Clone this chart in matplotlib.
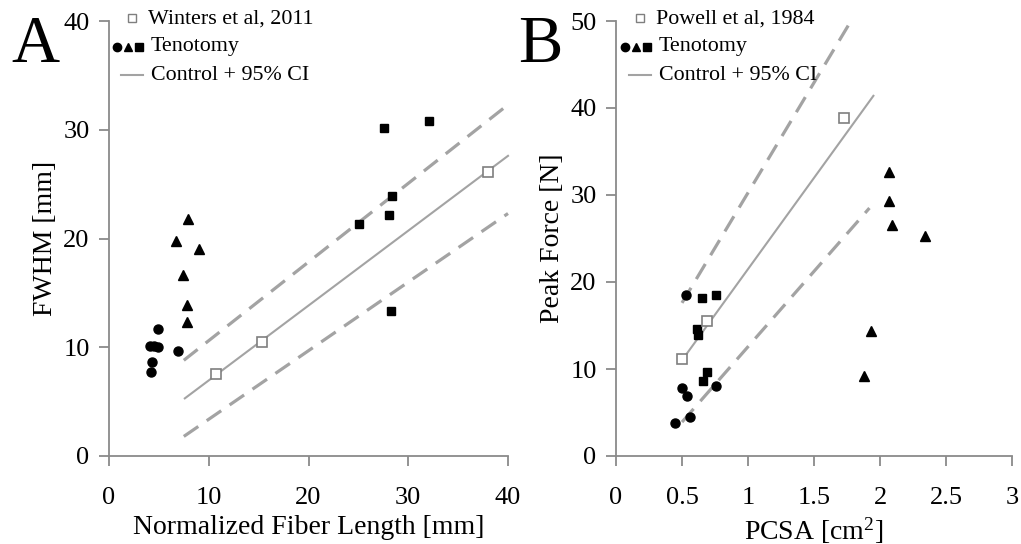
import matplotlib
matplotlib.use("Agg")
import matplotlib.pyplot as plt
from matplotlib.lines import Line2D

plt.rcParams['font.family'] = ['Liberation Serif', 'DejaVu Serif']
plt.rcParams['mathtext.fontset'] = 'custom'
plt.rcParams['mathtext.rm'] = 'Liberation Serif'
plt.rcParams['mathtext.it'] = 'Liberation Serif:italic'
plt.rcParams['mathtext.bf'] = 'Liberation Serif:bold'

# ---------------- Panel A data ----------------
a_ref_x = [10.7, 15.3, 38.0]
a_ref_y = [7.5, 10.5, 26.1]
a_circ_x = [4.1, 4.5, 4.9, 4.3, 4.2, 4.95, 6.9]
a_circ_y = [10.1, 10.1, 10.05, 8.6, 7.7, 11.7, 9.7]
a_tri_x = [7.9, 6.7, 9.0, 7.4, 7.8, 7.8]
a_tri_y = [21.8, 19.8, 19.0, 16.6, 13.9, 12.3]
a_sq_x = [27.6, 32.1, 28.4, 28.1, 25.1, 28.3]
a_sq_y = [30.2, 30.8, 23.9, 22.2, 21.3, 13.3]
a_fit_x = [7.6, 40.0]
a_fit_y = [5.3, 27.6]
a_ci_x = [7.5, 40.0]
a_ci_hi = [8.8, 32.3]
a_ci_lo = [1.8, 22.3]
a_xticks = [0, 10, 20, 30, 40]
a_yticks = [0, 10, 20, 30, 40]

# ---------------- Panel B data ----------------
b_ref_x = [0.50, 0.69, 1.73]
b_ref_y = [11.2, 15.5, 38.9]
b_circ_x = [0.45, 0.50, 0.54, 0.76, 0.56, 0.53]
b_circ_y = [3.8, 7.8, 6.9, 8.1, 4.5, 18.5]
b_tri_x = [2.07, 2.07, 2.09, 2.34, 1.93, 1.88]
b_tri_y = [32.7, 29.3, 26.5, 25.3, 14.4, 9.2]
b_sq_x = [0.65, 0.755, 0.615, 0.62, 0.69, 0.66]
b_sq_y = [18.2, 18.5, 14.6, 13.9, 9.65, 8.6]
b_fit_x = [0.50, 1.95]
b_fit_y = [11.0, 41.4]
b_cihi_x = [0.50, 1.78]
b_ci_hi = [17.6, 50.0]
b_cilo_x = [0.50, 1.92]
b_ci_lo = [3.9, 28.5]
b_xticks = [0, 0.5, 1, 1.5, 2, 2.5, 3]
b_xticklabels = ['0', '0.5', '1', '1.5', '2', '2.5', '3']
b_yticks = [0, 10, 20, 30, 40, 50]

GREY_LINE = '#a3a3a3'
GREY_SPINE = '#8a8a8a'
GREY_SQ = '#7f7f7f'

fig = plt.figure(figsize=(10.21, 5.44), dpi=100)
axA = fig.add_axes([109/1021, 88/544, 399/1021, 435/544])
axB = fig.add_axes([616/1021, 88/544, 396/1021, 435/544])

MS = 6.5


def style(ax):
    for s in ['top', 'right']:
        ax.spines[s].set_visible(False)
    for s in ['left', 'bottom']:
        ax.spines[s].set_color(GREY_SPINE)
        ax.spines[s].set_linewidth(1.3)
    ax.tick_params(axis='both', direction='out', length=7, width=1.3,
                   color=GREY_SPINE, labelsize=19, labelcolor='black')
    ax.tick_params(axis='x', pad=15)
    ax.tick_params(axis='y', pad=7)


def draw(ax, fitx, fity, hix, hiy, lox, loy, refx, refy, cx, cy, tx, ty, sx, sy):
    ax.plot(hix, hiy, color=GREY_LINE, lw=2.3, dashes=(5.5, 3.2), zorder=2, clip_on=False)
    ax.plot(lox, loy, color=GREY_LINE, lw=2.3, dashes=(5.5, 3.2), zorder=2, clip_on=False)
    ax.plot(fitx, fity, color=GREY_LINE, lw=1.5, zorder=2, clip_on=False)
    ax.plot(cx, cy, 'o', color='black', ms=MS, ls='none', zorder=3)
    ax.plot(tx, ty, '^', color='black', ms=MS, ls='none', zorder=3)
    ax.plot(sx, sy, 's', color='black', ms=MS - 0.5, ls='none', zorder=3)
    ax.plot(refx, refy, 's', mfc='white', mec=GREY_SQ, mew=1.2, ms=MS + 0.5,
            ls='none', zorder=4)


def legend(ax, x0, ref_label):
    tr = fig.transFigure
    H = 544.0
    W = 1021.0
    fig.add_artist(Line2D([(x0 + 17) / W], [(H - 18) / H], marker='s', mfc='white',
                          mec=GREY_SQ, mew=1.0, ms=6, ls='none', transform=tr))
    fig.text((x0 + 33) / W, (H - 19) / H, ref_label, fontsize=15.8,
             va='center', ha='left')
    for dx, m, ms in [(2, 'o', 6), (13, '^', 6), (24, 's', 5.5)]:
        fig.add_artist(Line2D([(x0 + dx) / W], [(H - 47) / H], marker=m,
                              color='black', ms=ms, ls='none', transform=tr))
    fig.text((x0 + 36) / W, (H - 47) / H, 'Tenotomy', fontsize=15.8,
             va='center', ha='left')
    fig.add_artist(Line2D([(x0 + 6) / W, (x0 + 28) / W], [(H - 75) / H, (H - 75) / H],
                          color=GREY_LINE, lw=1.5, transform=tr))
    fig.text((x0 + 36) / W, (H - 75) / H, 'Control + 95% CI', fontsize=15.8,
             va='center', ha='left')


# Panel A
draw(axA, a_fit_x, a_fit_y, a_ci_x, a_ci_hi, a_ci_x, a_ci_lo,
     a_ref_x, a_ref_y, a_circ_x, a_circ_y, a_tri_x, a_tri_y, a_sq_x, a_sq_y)
axA.set_xlim(0, 40)
axA.set_ylim(0, 40)
axA.set_xticks(a_xticks)
axA.set_yticks(a_yticks)
style(axA)
axA.set_xlabel('Normalized Fiber Length [mm]', fontsize=20, labelpad=5)
axA.set_ylabel('FWHM [mm]', fontsize=20, labelpad=4)

# Panel B
draw(axB, b_fit_x, b_fit_y, b_cihi_x, b_ci_hi, b_cilo_x, b_ci_lo,
     b_ref_x, b_ref_y, b_circ_x, b_circ_y, b_tri_x, b_tri_y, b_sq_x, b_sq_y)
axB.set_xlim(0, 3)
axB.set_ylim(0, 50)
axB.set_xticks(b_xticks)
axB.set_xticklabels(b_xticklabels)
axB.set_yticks(b_yticks)
style(axB)
axB.set_xlabel('PCSA [cm$^2$]', fontsize=20, labelpad=5)
axB.set_ylabel('Peak Force [N]', fontsize=20, labelpad=4)

legend(axA, 115, 'Winters et al, 2011')
legend(axB, 623, 'Powell et al, 1984')

fig.text(11 / 1021, 1 - 62 / 544, 'A', fontsize=48, ha='left', va='baseline')
fig.text(518 / 1021, 1 - 62 / 544, 'B', fontsize=48, ha='left', va='baseline')

fig.savefig('out.png', dpi=100)
